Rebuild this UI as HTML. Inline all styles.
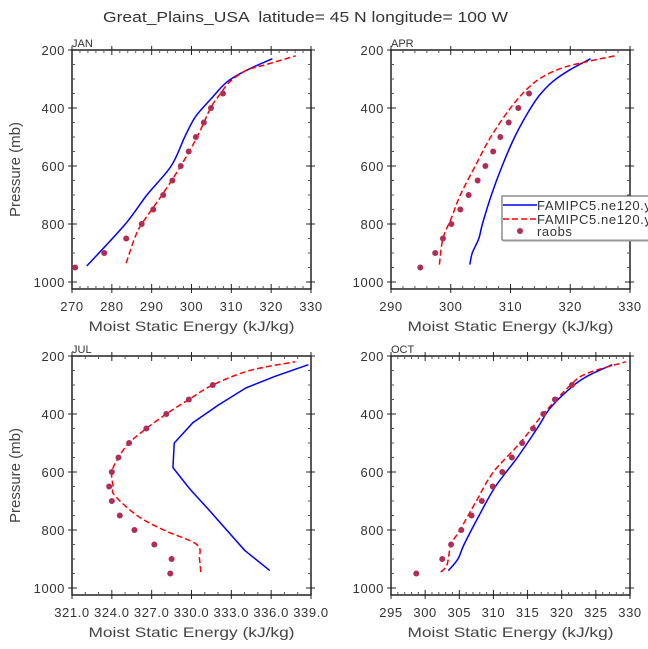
<!DOCTYPE html>
<html><head><meta charset="utf-8"><style>
body{margin:0;background:#fff}
svg{display:block;font-family:"Liberation Sans",sans-serif}
</style></head><body>
<svg id="c" width="648" height="649" viewBox="0 0 648 649">
<text x="103" y="22" font-size="15" fill="#333" textLength="405" lengthAdjust="spacingAndGlyphs" style="white-space:pre">Great_Plains_USA  latitude= 45 N longitude= 100 W</text>
</svg>
<script>
// pressure levels (mb)
const janRaobP=[950,900,850,800,750,700,650,600,550,500,450,400,350];
const janRaob=[270.8,278.1,283.6,287.5,290.4,292.9,295.2,297.3,299.3,301.1,303.1,304.9,307.9];
const janBlueP=[945,800,700,600,500,430,370,310,270,230];
const janBlue=[273.7,283.4,288.8,294.9,298.3,301,304.8,308.9,313.8,320.3];
const janRedP=[935,850,800,700,600,500,400,350,310,270,250,220];
const janRed=[283.6,285.7,287.5,292.6,297.3,301.4,304.8,307.3,309.6,313.8,318.8,326.2];

const aprRaobP=[950,900,850,800,750,700,650,600,550,500,450,400,350];
const aprRaob=[294.9,297.4,298.7,300.1,301.6,303.0,304.5,305.8,307.1,308.3,309.7,311.3,313.1];
const aprBlueP=[940,900,850,800,700,600,500,420,360,310,270,230];
const aprBlue=[303.2,303.6,304.7,305.3,306.8,308.6,310.7,312.8,314.7,317.0,319.8,323.4];
const aprRedP=[940,850,780,700,600,500,400,330,290,260,240,220];
const aprRed=[298.1,298.7,300.1,301.6,304.1,306.7,310.0,313.0,315.6,318.9,322.8,327.5];

const julRaobP=[950,900,850,800,750,700,650,600,550,500,450,400,350,300];
const julRaob=[328.4,328.5,327.2,325.7,324.6,324.0,323.8,324.0,324.5,325.3,326.6,328.1,329.8,331.6];
const julBlueP=[940,870,730,660,585,500,430,370,310,270,230];
const julBlue=[335.9,334.0,331.3,329.9,328.6,328.7,330.1,332.0,334.1,336.3,338.8];
const julRedP=[945,900,850,800,750,680,650,600,550,500,450,400,350,300,250,220];
const julRed=[330.7,330.6,330.4,327.9,325.9,324.2,324.1,324.0,324.5,325.3,326.6,328.1,329.8,331.6,334.4,337.8];

const octRaobP=[950,900,850,800,750,700,650,600,550,500,450,400,350,300];
const octRaob=[298.7,302.5,303.8,305.3,306.8,308.3,309.9,311.3,312.7,314.2,315.8,317.3,319.0,321.5];
const octBlueP=[940,900,850,750,650,550,450,380,310,270,230];
const octBlue=[303.4,304.8,305.7,307.9,310.3,313.5,316.4,318.3,321.3,323.7,327.4];
const octRedP=[945,920,850,800,700,600,500,400,300,260,220];
const octRed=[302.3,303.2,303.8,305.1,307.5,310.0,313.9,317.3,321.3,323.7,329.4];

const janTicks=["270","280","290","300","310","320","330"];
const aprTicks=["290","300","310","320","330"];
const julTicks=["321.0","324.0","327.0","330.0","333.0","336.0","339.0"];
const octTicks=["295","300","305","310","315","320","325","330"];
const yTicks=[200,400,600,800,1000];

const NS="http://www.w3.org/2000/svg";
const svg=document.getElementById('c');
function mk(t,a,p){const e=document.createElementNS(NS,t);for(const k in a)e.setAttribute(k,a[k]);(p||svg).appendChild(e);return e;}
function smoothPath(pts,smooth){
  if(!smooth)return 'M'+pts.map(p=>p[0]+','+p[1]).join(' L');
  let d='M'+pts[0][0]+','+pts[0][1];
  for(let i=0;i<pts.length-1;i++){
    const p0=pts[Math.max(0,i-1)],p1=pts[i],p2=pts[i+1],p3=pts[Math.min(pts.length-1,i+2)];
    const c1=[p1[0]+(p2[0]-p0[0])/6,p1[1]+(p2[1]-p0[1])/6];
    const c2=[p2[0]-(p3[0]-p1[0])/6,p2[1]-(p3[1]-p1[1])/6];
    d+=` C${c1[0]},${c1[1]} ${c2[0]},${c2[1]} ${p2[0]},${p2[1]}`;
  }
  return d;
}

function panel(name,L,T,xmin,xmax,ticks,minorPer,bP,bV,rP,rV,oP,oV,showY,legend,blueSmooth){
  const R=L+239,B=T+239;
  const g=mk('g',{});
  
  
  const xs=v=>L+(v-xmin)/(xmax-xmin)*(R-L);
  const ys=p=>T+(p-200)*0.29;
  const frame=mk('rect',{x:L,y:T,width:R-L,height:B-T,fill:'none',stroke:'#222','stroke-width':1.5},g);
  
  
  const n=ticks.length-1;
  for(let i=0;i<=n;i++){
    const x=L+i*(R-L)/n;
    mk('line',{x1:x,x2:x,y1:B-5,y2:B+4,stroke:'#222'},g);
    mk('line',{x1:x,x2:x,y1:T-4,y2:T+5,stroke:'#222'},g);
    const t=mk('text',{x:x,y:B+22,'font-size':13,fill:'#333','text-anchor':'middle','letter-spacing':'0.6'},g);
    t.textContent=ticks[i];
    
    
    if(i<n)for(let j=1;j<minorPer;j++){const xm=x+j*(R-L)/n/minorPer;
      mk('line',{x1:xm,x2:xm,y1:B-3,y2:B,stroke:'#555'},g);
      mk('line',{x1:xm,x2:xm,y1:T,y2:T+3,stroke:'#555'},g);}
  }
  for(let p=250;p<=1000;p+=50){const y=ys(p);const maj=yTicks.includes(p);
    mk('line',{x1:L-(maj?4:0),x2:L+(maj?5:3),y1:y,y2:y,stroke:maj?'#222':'#555'},g);
    mk('line',{x1:R-(maj?5:3),x2:R+(maj?4:0),y1:y,y2:y,stroke:maj?'#222':'#555'},g);}
  mk('line',{x1:L-4,x2:L+5,y1:T,y2:T,stroke:'#222'},g);
  mk('line',{x1:R-5,x2:R+4,y1:T,y2:T,stroke:'#222'},g);
  for(const p of yTicks){const t=mk('text',{x:L-7,y:ys(p)+5,'font-size':13,fill:'#333','text-anchor':'end','letter-spacing':'0.6'},g);t.textContent=p;
    
    }
  const xl=mk('text',{x:(L+R)/2-103,y:B+42,'font-size':14,fill:'#444',textLength:206,lengthAdjust:'spacingAndGlyphs'},g);
  xl.textContent='Moist Static Energy (kJ/kg)';
  
  
  if(showY){const yl=mk('text',{x:0,y:0,'font-size':15,fill:'#444','text-anchor':'middle',transform:`translate(20,${(T+B)/2}) rotate(-90)`},g);
    yl.textContent='Pressure (mb)';
    
    }
  const lb=mk('text',{x:L,y:T-3,'font-size':11,fill:'#333'},g);lb.textContent=name.toUpperCase();
  
  
  const bl=mk('path',{d:smoothPath(bP.map((p,i)=>[xs(bV[i]),ys(p)]),blueSmooth),fill:'none',stroke:'#0000ff','stroke-width':1.5},g);
  
  
  const rl=mk('path',{d:smoothPath(rP.map((p,i)=>[xs(rV[i]),ys(p)]),true),fill:'none',stroke:'#ff0000','stroke-width':1.5,'stroke-dasharray':'6,3'},g);
  
  
  oP.forEach((p,i)=>{const c=mk('circle',{cx:xs(oV[i]),cy:ys(p),r:3,fill:'#b02d55'},g);
    
    });
  if(legend){
    const lg=mk('g',{},g);
    
    
    mk('rect',{x:502,y:196,width:160,height:44,fill:'#fff',stroke:'#555'},lg);
    mk('line',{x1:503,x2:648,y1:240.5,y2:240.5,stroke:'#999','stroke-width':2},lg);
    mk('line',{x1:503,x2:537,y1:205,y2:205,stroke:'#0000ff','stroke-width':1.5},lg);
    mk('line',{x1:503,x2:537,y1:219,y2:219,stroke:'#ff0000','stroke-width':1.5,'stroke-dasharray':'6,3'},lg);
    mk('circle',{cx:520,cy:231,r:3,fill:'#b02d55'},lg);
    [['FAMIPC5.ne120.y',210],['FAMIPC5.ne120.y',224],['raobs',236]].forEach(([s,y])=>{
      const t=mk('text',{x:537,y:y,'font-size':13,fill:'#333','letter-spacing':'0.6'},lg);t.textContent=s;
      
      });
  }
}
panel('jan',72,50,270,330,janTicks,5,janBlueP,janBlue,janRedP,janRed,janRaobP,janRaob,true,false,true);
panel('apr',391,50,290,330,aprTicks,5,aprBlueP,aprBlue,aprRedP,aprRed,aprRaobP,aprRaob,false,true,true);
panel('jul',72,356,321,339,julTicks,3,julBlueP,julBlue,julRedP,julRed,julRaobP,julRaob,true,false,false);
panel('oct',391,356,295,330,octTicks,5,octBlueP,octBlue,octRedP,octRed,octRaobP,octRaob,false,false,true);
</script>
</body></html>
